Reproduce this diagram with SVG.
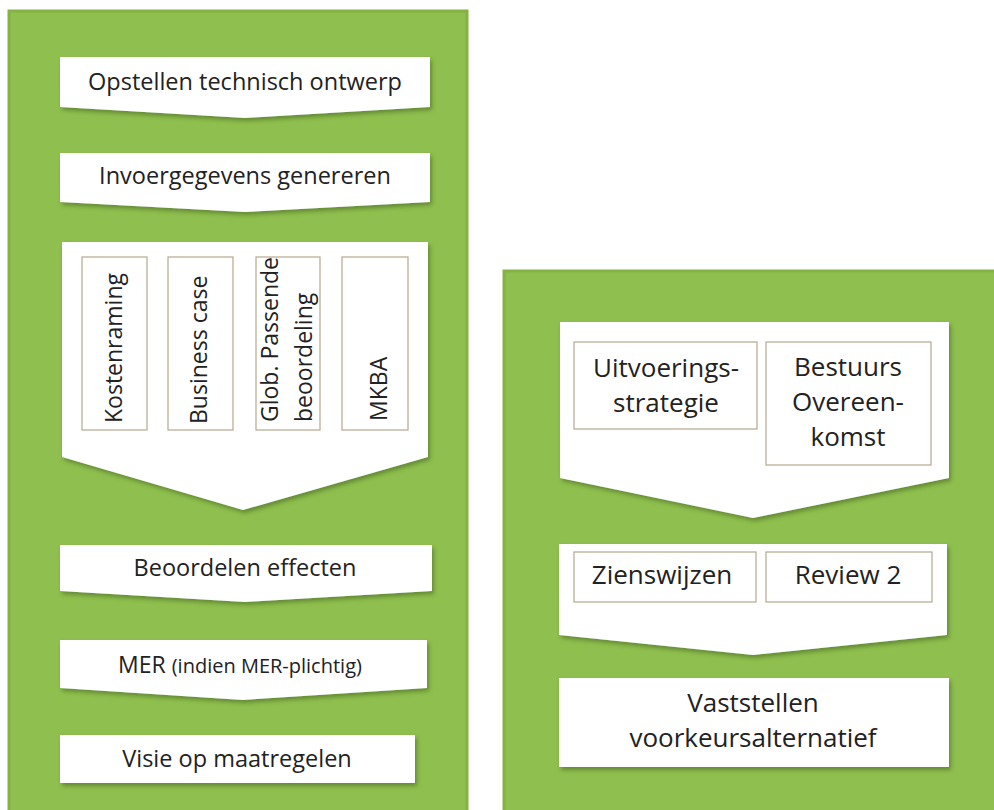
<svg xmlns="http://www.w3.org/2000/svg" width="994" height="810" viewBox="0 0 994 810">
<defs>
<filter id="sh" x="-10%" y="-10%" width="125%" height="140%">
<feDropShadow dx="2" dy="3" stdDeviation="2" flood-color="#3f5e1c" flood-opacity="0.55"/>
</filter>
<style>
.panel{fill:#8fbf4e;stroke:#84b243;stroke-width:3}
.box{fill:#ffffff;filter:url(#sh)}
.inner{fill:#ffffff;stroke:#b5a98e;stroke-width:1.2}
.t{font-family:"Open Sans","DejaVu Sans",sans-serif;fill:#222222;text-anchor:middle}
.l{font-size:23.5px}
.r{font-size:26px}
.v{font-family:"Open Sans","DejaVu Sans",sans-serif;fill:#222222;font-size:23px;text-anchor:start}
</style>
</defs>
<rect width="994" height="810" fill="#ffffff"/>
<g id="panel-left"><rect class="panel" x="9" y="11" width="458" height="802"/></g>
<g id="panel-right"><rect class="panel" x="504" y="271" width="494" height="542"/></g>

<g id="n-opstellen">
<polygon class="box" points="60,57 430,57 430,107 245,118 60,107"/>
<text class="t l" x="245" y="90">Opstellen technisch ontwerp</text>
</g>
<g id="n-invoer">
<polygon class="box" points="60,153 430,153 430,202 245,212 60,202"/>
<text class="t l" x="245" y="184">Invoergegevens genereren</text>
</g>
<g id="n-analyses">
<polygon class="box" points="62,242 428,242 428,457 243,510 62,457"/>
<g id="n-kostenraming">
<rect class="inner" x="82" y="257" width="65" height="173"/>
<text class="v" transform="translate(122,423) rotate(-90)">Kostenraming</text>
</g>
<g id="n-business">
<rect class="inner" x="168" y="257" width="65" height="173"/>
<text class="v" transform="translate(207,424) rotate(-90)">Business case</text>
</g>
<g id="n-glob">
<rect class="inner" x="256" y="257" width="64" height="173"/>
<text class="v" transform="translate(278,422) rotate(-90)">Glob. Passende</text>
<text class="v" transform="translate(312,422) rotate(-90)">beoordeling</text>
</g>
<g id="n-mkba">
<rect class="inner" x="342" y="257" width="66" height="173"/>
<text class="v" transform="translate(387,421) rotate(-90)">MKBA</text>
</g>
</g>
<g id="n-beoordelen">
<polygon class="box" points="60,545 432,545 432,591 245,602 60,591"/>
<text class="t l" x="245" y="576">Beoordelen effecten</text>
</g>
<g id="n-mer">
<polygon class="box" points="60,640 427,640 427,688 243,700 60,688"/>
<text class="t" x="240" y="673"><tspan font-size="23px">MER </tspan><tspan font-size="20px">(indien MER-plichtig)</tspan></text>
</g>
<g id="n-visie">
<rect class="box" x="60" y="735" width="355" height="48"/>
<text class="t l" x="237" y="767">Visie op maatregelen</text>
</g>

<g id="n-bestuur">
<polygon class="box" points="560,322 949,322 949,478 753,518 560,478"/>
<g id="n-uitvoering">
<rect class="inner" x="574" y="342" width="183" height="87"/>
<text class="t r" x="666" y="377">Uitvoerings-</text>
<text class="t r" x="666" y="412">strategie</text>
</g>
<g id="n-overeenkomst">
<rect class="inner" x="766" y="342" width="165" height="123"/>
<text class="t r" x="848" y="376">Bestuurs</text>
<text class="t r" x="848" y="411">Overeen-</text>
<text class="t r" x="848" y="446">komst</text>
</g>
</g>
<g id="n-review">
<polygon class="box" points="559,544 947,544 947,635 753,655 559,635"/>
<g id="n-zienswijzen">
<rect class="inner" x="574" y="552" width="182" height="50"/>
<text class="t r" x="662" y="584">Zienswijzen</text>
</g>
<g id="n-review2">
<rect class="inner" x="766" y="552" width="166" height="50"/>
<text class="t r" x="848" y="584">Review 2</text>
</g>
</g>
<g id="n-vaststellen">
<rect class="box" x="559" y="678" width="390" height="89"/>
<text class="t r" x="753" y="712">Vaststellen</text>
<text class="t r" x="753" y="747">voorkeursalternatief</text>
</g>
<g id="connectors"></g>
</svg>
